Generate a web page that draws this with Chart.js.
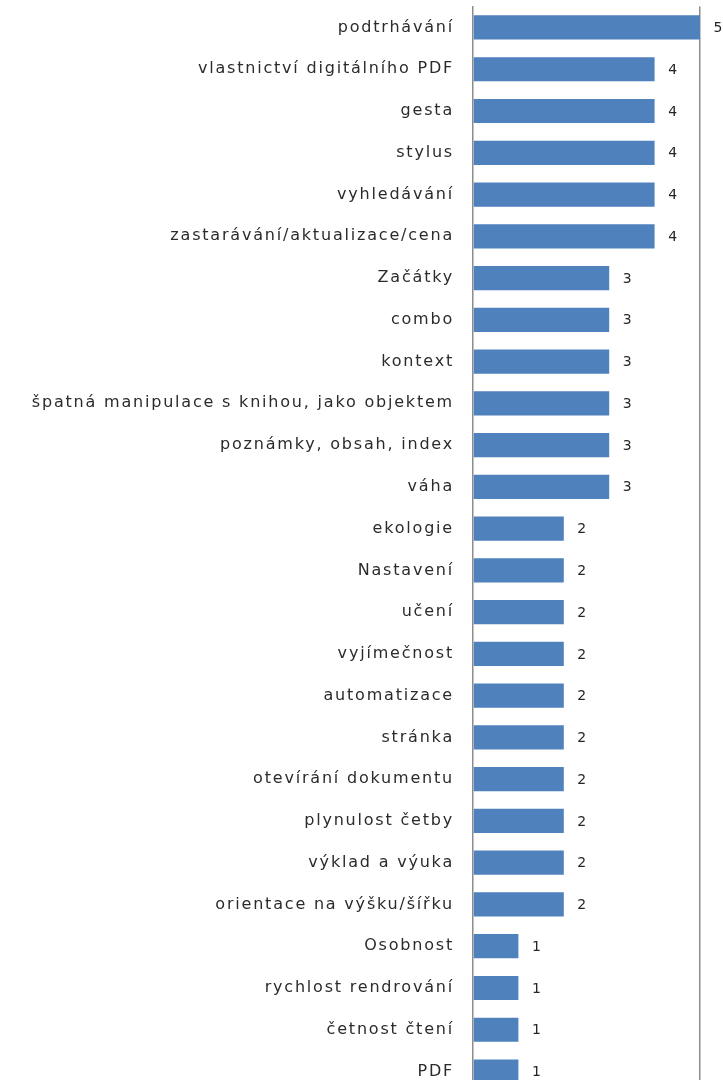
<!DOCTYPE html>
<html>
<head>
<meta charset="utf-8">
<script src="https://cdn.jsdelivr.net/npm/chart.js@4"></script>
<style>
    html, body { margin: 0; padding: 0; background: #ffffff; overflow: hidden; }
    #wrap { width: 723px; height: 1080px; overflow: hidden; }
    /* the category axis reserves ~28px above the plot; pull it up so the plot starts near the top */
    #barChart { display: block; margin-top: -22px; }
</style>
</head>
<body>
<div id="wrap"><canvas id="barChart" width="723" height="1143"></canvas></div>
<script>
// Category labels (top to bottom)
const categories = [
    'podtrhávání',
    'vlastnictví digitálního PDF',
    'gesta',
    'stylus',
    'vyhledávání',
    'zastarávání/aktualizace/cena',
    'Začátky',
    'combo',
    'kontext',
    'špatná manipulace s knihou, jako objektem',
    'poznámky, obsah, index',
    'váha',
    'ekologie',
    'Nastavení',
    'učení',
    'vyjímečnost',
    'automatizace',
    'stránka',
    'otevírání dokumentu',
    'plynulost četby',
    'výklad a výuka',
    'orientace na výšku/šířku',
    'Osobnost',
    'rychlost rendrování',
    'četnost čtení',
    'PDF'
];

// Counts per category
const counts = [5, 4, 4, 4, 4, 4, 3, 3, 3, 3, 3, 3, 2, 2, 2, 2, 2, 2, 2, 2, 2, 2, 1, 1, 1, 1];

const xMin = 0;
const xMax = 5;

// Draws the number next to the end of each bar
const valueLabels = {
    id: 'valueLabels',
    afterDatasetsDraw(chart) {
        const ctx = chart.ctx;
        const meta = chart.getDatasetMeta(0);
        ctx.save();
        ctx.letterSpacing = '0px';
        ctx.font = '14px "DejaVu Sans"';
        ctx.fillStyle = '#262626';
        ctx.textAlign = 'center';
        ctx.textBaseline = 'middle';
        meta.data.forEach((bar, i) => {
            ctx.fillText(String(counts[i]), bar.x + 18, bar.y + 1);
        });
        ctx.restore();
    }
};

// Wider letter spacing for the category labels
const spacedText = {
    id: 'spacedText',
    beforeDraw(chart) {
        chart.ctx.letterSpacing = '1.8px';
    }
};

const ctx = document.getElementById('barChart').getContext('2d');
new Chart(ctx, {
    type: 'bar',
    data: {
        labels: categories,
        datasets: [{
            data: counts,
            backgroundColor: '#4F81BD',
            borderWidth: 0,
            categoryPercentage: 1.0,
            barPercentage: 0.58
        }]
    },
    options: {
        indexAxis: 'y',
        responsive: false,
        animation: false,
        layout: {
            padding: { top: 0, right: 23, bottom: 0, left: 0 }
        },
        plugins: {
            legend: { display: false },
            tooltip: { enabled: false }
        },
        scales: {
            x: {
                min: xMin,
                max: xMax,
                ticks: { display: false },
                border: { display: false },
                grid: {
                    drawTicks: false,
                    lineWidth: 1.5,
                    color: (c) => (c.tick && c.tick.value === xMax) ? '#8c8c8c' : 'rgba(0,0,0,0)'
                },
                afterFit: (scale) => { scale.height = 0; }
            },
            y: {
                ticks: {
                    color: '#2b2b2b',
                    padding: 19,
                    autoSkip: false,
                    font: { family: '"DejaVu Sans"', size: 16 }
                },
                grid: { display: false, drawTicks: false },
                border: { display: true, color: '#8c8c8c', width: 1.5 },
                afterFit: (scale) => { scale.width = 473; }
            }
        }
    },
    plugins: [spacedText, valueLabels]
});
</script>
</body>
</html>
